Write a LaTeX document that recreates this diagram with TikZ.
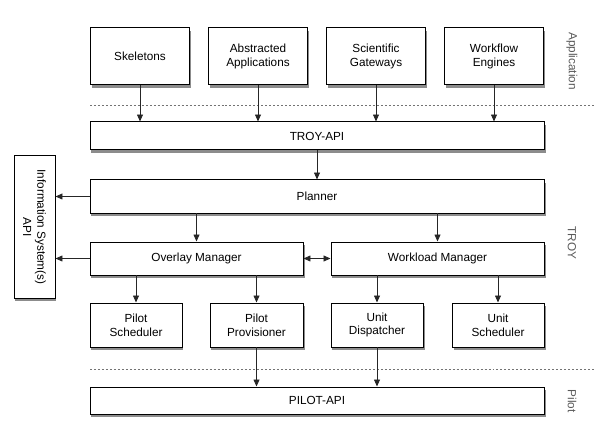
\documentclass[tikz,border=0pt]{standalone}
\usepackage{fontspec}
\setmainfont{Liberation Sans}
\usetikzlibrary{arrows.meta,shadows}
\begin{document}
\begin{tikzpicture}[x=1bp,y=-1bp,
  font=\fontsize{11.8}{13.8}\selectfont,
  box/.style={draw=black, line width=1pt, fill=white, inner sep=1pt, align=center,
    drop shadow={shadow xshift=1.5pt, shadow yshift=-3pt, opacity=0.45, fill=black}},
  arr/.style={draw=black!85, line width=0.8pt, -{Triangle[width=6pt,length=7pt]}},
  darr/.style={draw=black!85, line width=0.8pt, {Triangle[width=6pt,length=7pt]}-{Triangle[width=6pt,length=7pt]}},
  sep/.style={draw=black!55, line width=0.6pt, dash pattern=on 2pt off 2pt},
  layer/.style={text=black!65, rotate=-90, inner sep=0pt}]
\useasboundingbox (0,0) rectangle (595,442);
% top row
\node[box, minimum width=99bp, minimum height=57bp] (skel) at (140,56.5) {Skeletons};
\node[box, minimum width=99bp, minimum height=57bp] (abs) at (258,56.5) {Abstracted\\Applications};
\node[box, minimum width=99bp, minimum height=57bp] (sci) at (376,56.5) {Scientific\\Gateways};
\node[box, minimum width=99bp, minimum height=57bp] (wf) at (494,56.5) {Workflow\\Engines};
% apis and managers
\node[box, minimum width=454bp, minimum height=28bp] (troyapi) at (317,136) {TROY-API};
\node[box, minimum width=454bp, minimum height=33bp] (planner) at (317,196.5) {Planner};
\node[box, minimum width=213bp, minimum height=33bp] (overlay) at (196.5,258.5) {Overlay Manager};
\node[box, minimum width=213bp, minimum height=33bp] (workload) at (437.5,258.5) {Workload Manager};
\node[box, minimum width=92bp, minimum height=44bp] (psched) at (136,325) {Pilot\\Scheduler};
\node[box, minimum width=93bp, minimum height=44bp] (pprov) at (256.5,325) {Pilot\\Provisioner};
\node[box, minimum width=92bp, minimum height=44bp] (udisp) at (377,325) {Unit\\Dispatcher};
\node[box, minimum width=92bp, minimum height=44bp] (usched) at (498,325) {Unit\\Scheduler};
\node[box, minimum width=454bp, minimum height=27bp] (pilotapi) at (317,400.5) {PILOT-API};
\node[box, minimum width=41bp, minimum height=142bp] (info) at (34.5,227) {};
\node[rotate=-90, align=center, font=\fontsize{11.8}{14.5}\selectfont] (infotext) at (info.center) {Information System(s)\\API};
% separators
\coordinate (s1a) at (90,105); \coordinate (s1b) at (595,105);
\coordinate (s2a) at (90,369); \coordinate (s2b) at (595,369);
\draw[sep] (s1a) -- (s1b);
\draw[sep] (s2a) -- (s2b);
% layer labels
\node[layer] (lapp) at (572,61) {Application};
\node[layer] (ltroy) at (572,243) {TROY};
\node[layer] (lpilot) at (572,401) {Pilot};
% connectors
\draw[arr] (skel.south) -- (skel.south |- troyapi.north);
\draw[arr] (abs.south) -- (abs.south |- troyapi.north);
\draw[arr] (sci.south) -- (sci.south |- troyapi.north);
\draw[arr] (wf.south) -- (wf.south |- troyapi.north);
\draw[arr] (troyapi.south) -- (planner.north);
\draw[arr] (planner.west) -- (planner.west -| info.east);
\draw[arr] (overlay.west) -- (overlay.west -| info.east);
\draw[arr] (overlay.north |- planner.south) -- (overlay.north);
\draw[arr] (workload.north |- planner.south) -- (workload.north);
\draw[darr] (overlay.east) -- (workload.west);
\draw[arr] (psched.north |- overlay.south) -- (psched.north);
\draw[arr] (pprov.north |- overlay.south) -- (pprov.north);
\draw[arr] (udisp.north |- workload.south) -- (udisp.north);
\draw[arr] (usched.north |- workload.south) -- (usched.north);
\draw[arr] (pprov.south) -- (pprov.south |- pilotapi.north);
\draw[arr] (udisp.south) -- (udisp.south |- pilotapi.north);
\end{tikzpicture}
\end{document}
